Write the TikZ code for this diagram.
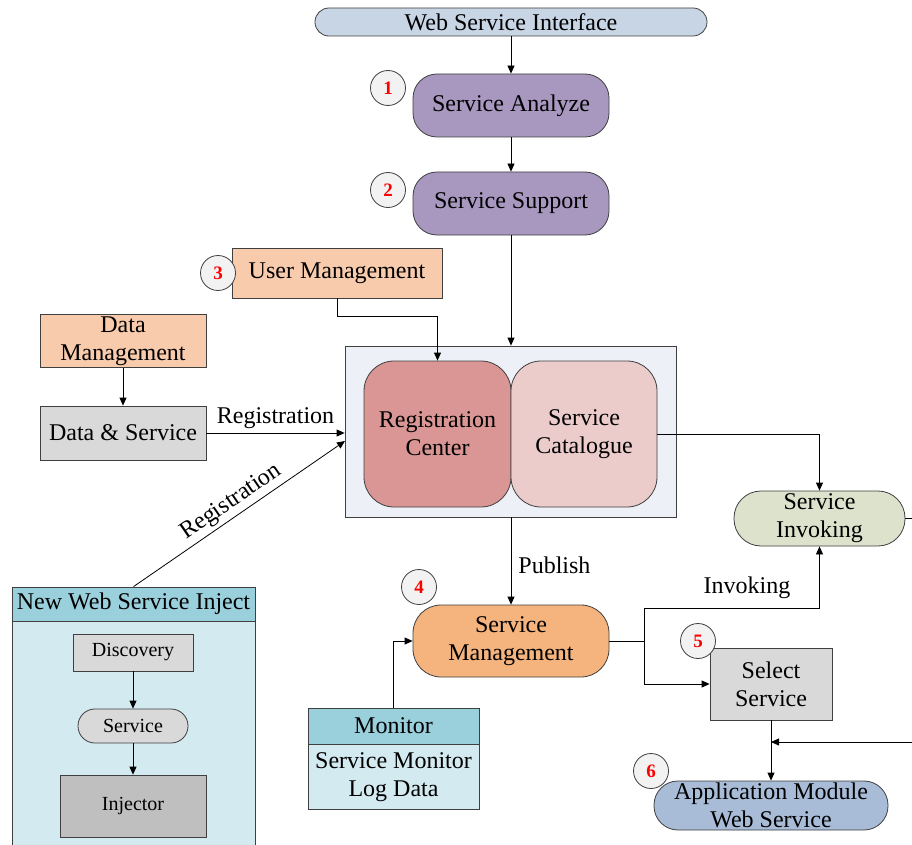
\documentclass[tikz,border=0pt]{standalone}
\usepackage{fontspec}
\setmainfont{Liberation Serif}
\usetikzlibrary{arrows.meta,calc}

\definecolor{edge}{HTML}{3F3F3F}
\definecolor{wsifill}{HTML}{C7D5E5}
\definecolor{purplefill}{HTML}{A898C0}
\definecolor{peach}{HTML}{F8CBAD}
\definecolor{lightgray}{HTML}{D9D9D9}
\definecolor{midgray}{HTML}{BFBFBF}
\definecolor{contfill}{HTML}{EDF0F6}
\definecolor{regfill}{HTML}{D99694}
\definecolor{catfill}{HTML}{EBCCCB}
\definecolor{invfill}{HTML}{DCE2CC}
\definecolor{mgmtfill}{HTML}{F5B47E}
\definecolor{headblue}{HTML}{9ACFDC}
\definecolor{bodyblue}{HTML}{D3EAF0}
\definecolor{appfill}{HTML}{A8BBD7}
\definecolor{circfill}{HTML}{F2F2F2}

\tikzset{
  box/.style={draw=edge, line width=0.8pt, inner sep=2pt, align=center,
    font=\fontsize{24}{28}\selectfont},
  smallbox/.style={box, font=\fontsize{20}{24}\selectfont},
  arr/.style={line width=0.8pt, draw=black, -{Triangle[length=8pt,width=7pt]}},
  plain/.style={line width=0.8pt, draw=black},
  numcirc/.style={circle, draw=edge, line width=0.8pt, fill=circfill,
    minimum size=35pt, inner sep=0pt, text=red,
    font=\fontsize{19}{19}\selectfont\bfseries},
  lbl/.style={font=\fontsize{24}{28}\selectfont, inner sep=1pt},
}

\begin{document}
\begin{tikzpicture}[x=1pt, y=-1pt]
\useasboundingbox (0,0) rectangle (912,845);
\clip (0,0) rectangle (912,845);

% top chain
\node[box, fill=wsifill, minimum width=392pt, minimum height=28pt,
  rounded corners=13.9pt] (wsi) at (511,22) {Web Service Interface};
\node[box, fill=purplefill, minimum width=196pt, minimum height=63pt,
  rounded corners=24pt] (sa) at (511,105.5) {Service Analyze};
\node[box, fill=purplefill, minimum width=196pt, minimum height=63pt,
  rounded corners=24pt] (ss) at (511,203.5) {Service Support};

% user and data management
\node[box, fill=peach, minimum width=210pt, minimum height=50pt] (um) at (337,273) {User Management};
\node[box, fill=peach, minimum width=166pt, minimum height=50pt] (dm) at (123,341) {Data\\Management};
\node[box, fill=lightgray, minimum width=166pt, minimum height=54pt] (ds) at (123,433) {Data \& Service};

% registry container
\node[draw=edge, line width=0.8pt, fill=contfill, minimum width=331pt,
  minimum height=171pt, inner sep=0pt] (cont) at (510.5,431.5) {};
\node[box, fill=regfill, minimum width=147pt, minimum height=146pt,
  rounded corners=30pt] (rc) at (437.5,434) {Registration\\Center};
\node[box, fill=catfill, minimum width=146pt, minimum height=146pt,
  rounded corners=30pt] (sc) at (584,434) {Service\\Catalogue};

% invoking and management
\node[box, fill=invfill, minimum width=171pt, minimum height=55pt,
  rounded corners=27pt] (si) at (819.5,518.5) {Service\\Invoking};
\node[box, fill=mgmtfill, minimum width=196pt, minimum height=72pt,
  rounded corners=28pt] (sm) at (511,641) {Service\\Management};
\node[box, fill=lightgray, minimum width=122pt, minimum height=72pt] (sel) at (771,684) {Select\\Service};
\node[box, fill=appfill, minimum width=234pt, minimum height=49pt,
  rounded corners=24pt] (app) at (771,805.5) {Application Module\\Web Service};

% monitor
\node[box, fill=headblue, minimum width=171pt, minimum height=36pt] (mon) at (393.5,726) {Monitor};
\node[box, fill=bodyblue, minimum width=171pt, minimum height=65pt, anchor=north]
  (monbody) at (mon.south) {Service Monitor\\Log Data};

% new web service inject
\node[box, fill=headblue, minimum width=243pt, minimum height=34pt] (nwh) at (133.5,604) {New Web Service Inject};
\node[box, fill=bodyblue, minimum width=243pt, minimum height=240pt, anchor=north]
  (nwbody) at (nwh.south) {};
\node[smallbox, fill=lightgray, minimum width=120pt, minimum height=37pt] (disc) at (133,652.5) {Discovery};
\node[smallbox, fill=lightgray, minimum width=110pt, minimum height=34pt,
  rounded corners=16.9pt] (svc) at (133,726) {Service};
\node[smallbox, fill=midgray, minimum width=146pt, minimum height=62pt] (inj) at (133,806) {Injector};

% step numbers
\node[numcirc] (n1) at (388,88) {1};
\node[numcirc] (n2) at (388,190) {2};
\node[numcirc] (n3) at (218,273) {3};
\node[numcirc] (n4) at (419,587) {4};
\node[numcirc] (n5) at (698,641) {5};
\node[numcirc] (n6) at (651,771) {6};

% helper points
\coordinate (umturn) at (337,316);
\coordinate (regin) at (345,441);
\coordinate (br) at (644,641);
\coordinate (invturn) at (644,608);
\coordinate (fb1) at (930,518.5);
\coordinate (fb2) at (930,742);
\coordinate (fbend) at (771,742);

% connectors
\draw[arr] (wsi) -- (sa);
\draw[arr] (sa) -- (ss);
\draw[arr] (ss.south) -- (cont.north -| ss.south);
\draw[arr] (um.south -| umturn) -- (umturn) -| (rc.north);
\draw[arr] (dm) -- (ds);
\draw[arr] (ds.east) -- (cont.west |- ds.east)
  node[lbl, midway, above=3pt] {Registration};
\draw[arr] (nwh.north) -- (regin)
  node[lbl, pos=0.5, sloped, above=2pt] {Registration};
\draw[arr] (sc.east) -| (si.north);
\draw[arr] (cont.south -| sm.north) -- (sm.north)
  node[lbl, pos=0.55, right=6pt] {Publish};
\draw[arr] (mon.north) |- (sm.west);
\draw[plain] (sm.east) -- (br);
\draw[arr] (br) -- (invturn) -| (si.south);
\node[lbl, anchor=south] at (747,600) {Invoking};
\draw[arr] (br) |- (sel.west);
\draw[arr] (sel.south) -- (app.north);
\draw[arr] (si.east) -- (fb1) -- (fb2) -- (fbend);
\draw[arr] (disc) -- (svc);
\draw[arr] (svc) -- (inj);
\end{tikzpicture}
\end{document}
